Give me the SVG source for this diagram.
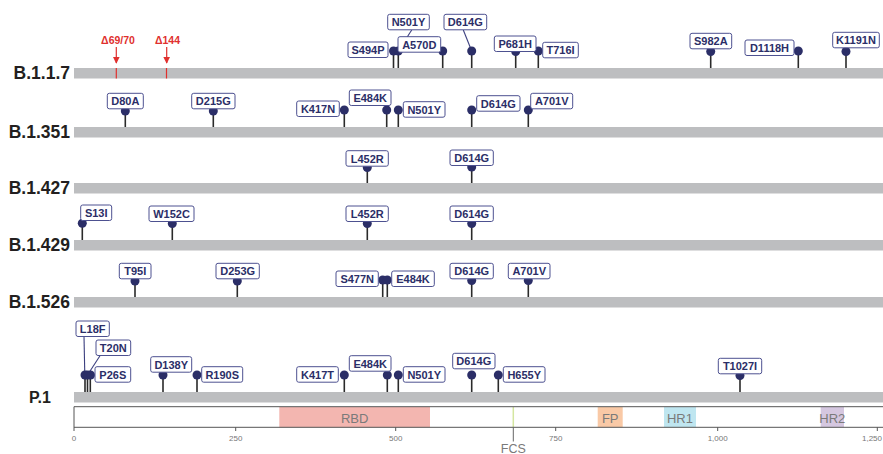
<svg xmlns="http://www.w3.org/2000/svg" width="883" height="454" viewBox="0 0 883 454">
<defs>
<style>
.bar{fill:#bdbec0}
.row{font-family:"Liberation Sans",Arial,sans-serif;font-weight:bold;font-size:17.5px;fill:#231f20;text-anchor:end}
.rowp{font-family:"Liberation Sans",Arial,sans-serif;font-weight:bold;font-size:16px;fill:#231f20;text-anchor:start}
.stem{stroke:#2a2a2a;stroke-width:1.6}
.lead{stroke:#3b3f7f;stroke-width:1.1;fill:none}
.dot{fill:#2b2e67}
.box{fill:#fff;stroke:#4d5190;stroke-width:1;rx:2;ry:2}
.lbl{font-family:"Liberation Sans",Arial,sans-serif;font-weight:bold;font-size:11px;fill:#2b2e67;text-anchor:middle}
.del{font-family:"Liberation Sans",Arial,sans-serif;font-weight:bold;font-size:10.5px;fill:#e0302e;text-anchor:middle}
.red{stroke:#e0302e;stroke-width:1.2}
.dom{font-family:"Liberation Sans",Arial,sans-serif;font-size:13px;fill:#7a7a7a;text-anchor:middle}
.tick{font-family:"Liberation Sans",Arial,sans-serif;font-size:8px;fill:#777;text-anchor:middle}
.ax{stroke:#555;stroke-width:1}
</style>
<marker id="arr" viewBox="0 0 10 10" refX="9" refY="5" markerWidth="7" markerHeight="7" orient="auto" markerUnits="userSpaceOnUse">
<path d="M0,0 L10,5 L0,10 z" fill="#e0302e"/>
</marker>
</defs>
<rect width="883" height="454" fill="#fff"/>

<g id="rows">
<rect class="bar" x="74" y="68" width="809" height="10.5"/>
<text class="row" x="70" y="79">B.1.1.7</text>
<rect class="bar" x="74" y="127" width="809" height="10.5"/>
<text class="row" x="70" y="138">B.1.351</text>
<rect class="bar" x="74" y="183" width="809" height="10.5"/>
<text class="row" x="70" y="194">B.1.427</text>
<rect class="bar" x="74" y="240" width="809" height="10.5"/>
<text class="row" x="70" y="251">B.1.429</text>
<rect class="bar" x="74" y="297" width="809" height="10.5"/>
<text class="row" x="70" y="308">B.1.526</text>
<rect class="bar" x="74" y="392" width="809" height="10.5"/>
<text class="rowp" x="29" y="403">P.1</text>
</g>

<g id="deletions">
<line class="red" x1="116.3" y1="68" x2="116.3" y2="78.5" stroke-width="1.4"/>
<line class="red" x1="166.5" y1="68" x2="166.5" y2="78.5" stroke-width="0.8"/>
<text class="del" x="118" y="44">Δ69/70</text>
<text class="del" x="167.5" y="44">Δ144</text>
<line class="red" x1="116.3" y1="47" x2="116.3" y2="63" marker-end="url(#arr)"/>
<line class="red" x1="166.7" y1="47" x2="166.7" y2="63" marker-end="url(#arr)"/>
</g>

<g id="connectors">
<!-- B.1.1.7 -->
<line class="stem" x1="393.5" y1="51" x2="393.5" y2="68"/>
<line class="stem" x1="398.3" y1="51" x2="398.3" y2="68"/>
<line class="stem" x1="442.7" y1="51" x2="442.7" y2="68"/>
<line class="stem" x1="471.7" y1="51" x2="471.7" y2="68"/>
<line class="stem" x1="515.7" y1="51" x2="515.7" y2="68"/>
<line class="stem" x1="538.3" y1="51" x2="538.3" y2="68"/>
<line class="stem" x1="710.7" y1="51" x2="710.7" y2="68"/>
<line class="stem" x1="798.3" y1="51" x2="798.3" y2="68"/>
<line class="stem" x1="846" y1="51" x2="846" y2="68"/>
<line class="lead" x1="411.7" y1="30" x2="398.3" y2="51"/>
<line class="lead" x1="463.3" y1="30" x2="471.7" y2="51"/>
<!-- B.1.351 -->
<line class="stem" x1="125.3" y1="110" x2="125.3" y2="127"/>
<line class="stem" x1="213.3" y1="110" x2="213.3" y2="127"/>
<line class="stem" x1="344.3" y1="110" x2="344.3" y2="127"/>
<line class="stem" x1="386.7" y1="110" x2="386.7" y2="127"/>
<line class="stem" x1="398.3" y1="110" x2="398.3" y2="127"/>
<line class="stem" x1="471.7" y1="110" x2="471.7" y2="127"/>
<line class="stem" x1="528.3" y1="110" x2="528.3" y2="127"/>
<!-- B.1.427 -->
<line class="stem" x1="367.3" y1="167" x2="367.3" y2="183"/>
<line class="stem" x1="471.7" y1="167" x2="471.7" y2="183"/>
<!-- B.1.429 -->
<line class="stem" x1="82.3" y1="223" x2="82.3" y2="240"/>
<line class="stem" x1="172.3" y1="223" x2="172.3" y2="240"/>
<line class="stem" x1="367.3" y1="223" x2="367.3" y2="240"/>
<line class="stem" x1="471.7" y1="223" x2="471.7" y2="240"/>
<!-- B.1.526 -->
<line class="stem" x1="135" y1="281" x2="135" y2="297"/>
<line class="stem" x1="237.3" y1="281" x2="237.3" y2="297"/>
<line class="stem" x1="382.7" y1="280" x2="382.7" y2="297"/>
<line class="stem" x1="387.3" y1="280" x2="387.3" y2="297"/>
<line class="stem" x1="471.7" y1="281" x2="471.7" y2="297"/>
<line class="stem" x1="528.3" y1="281" x2="528.3" y2="297"/>
<!-- P.1 -->
<line class="stem" x1="85" y1="375" x2="85" y2="392"/>
<line class="stem" x1="87.5" y1="375" x2="87.5" y2="392"/>
<line class="stem" x1="90.3" y1="375" x2="90.3" y2="392"/>
<line class="stem" x1="163" y1="375" x2="163" y2="392"/>
<line class="stem" x1="197" y1="375" x2="197" y2="392"/>
<line class="stem" x1="344.3" y1="375" x2="344.3" y2="392"/>
<line class="stem" x1="387.3" y1="375" x2="387.3" y2="392"/>
<line class="stem" x1="398.3" y1="375" x2="398.3" y2="392"/>
<line class="stem" x1="471.7" y1="375" x2="471.7" y2="392"/>
<line class="stem" x1="498.3" y1="375" x2="498.3" y2="392"/>
<line class="stem" x1="740" y1="375" x2="740" y2="392"/>
<line class="lead" x1="84" y1="336" x2="84.8" y2="375"/>
<line class="lead" x1="100" y1="355.7" x2="87.5" y2="375"/>
</g>

<g id="dots">
<circle class="dot" cx="393.5" cy="51" r="4.5"/>
<circle class="dot" cx="398.3" cy="51" r="4.5"/>
<circle class="dot" cx="442.7" cy="51" r="4.5"/>
<circle class="dot" cx="471.7" cy="51" r="4.5"/>
<circle class="dot" cx="515.7" cy="51.5" r="4.5"/>
<circle class="dot" cx="538.3" cy="51" r="4.5"/>
<circle class="dot" cx="710.7" cy="51.5" r="4.5"/>
<circle class="dot" cx="798.3" cy="51" r="4.5"/>
<circle class="dot" cx="846" cy="51.5" r="4.5"/>
<circle class="dot" cx="125.3" cy="111" r="4.5"/>
<circle class="dot" cx="213.3" cy="111" r="4.5"/>
<circle class="dot" cx="344.3" cy="110" r="4.5"/>
<circle class="dot" cx="386.7" cy="110" r="4.5"/>
<circle class="dot" cx="398.3" cy="110" r="4.5"/>
<circle class="dot" cx="471.7" cy="110" r="4.5"/>
<circle class="dot" cx="528.3" cy="110" r="4.5"/>
<circle class="dot" cx="367.3" cy="167.5" r="4.5"/>
<circle class="dot" cx="471.7" cy="167" r="4.5"/>
<circle class="dot" cx="82.3" cy="223.3" r="4.5"/>
<circle class="dot" cx="172.3" cy="223.5" r="4.5"/>
<circle class="dot" cx="367.3" cy="223.5" r="4.5"/>
<circle class="dot" cx="471.7" cy="223.5" r="4.5"/>
<circle class="dot" cx="135" cy="281" r="4.5"/>
<circle class="dot" cx="237.3" cy="281" r="4.5"/>
<circle class="dot" cx="382.7" cy="280" r="4.5"/>
<circle class="dot" cx="387.3" cy="280" r="4.5"/>
<circle class="dot" cx="471.7" cy="280.5" r="4.5"/>
<circle class="dot" cx="528.3" cy="280.5" r="4.5"/>
<circle class="dot" cx="85" cy="375" r="4.5"/>
<circle class="dot" cx="87.5" cy="375" r="4.5"/>
<circle class="dot" cx="90.5" cy="375" r="4.5"/>
<circle class="dot" cx="163" cy="375" r="4.5"/>
<circle class="dot" cx="197" cy="375" r="4.5"/>
<circle class="dot" cx="344.3" cy="375" r="4.5"/>
<circle class="dot" cx="387.3" cy="375" r="4.5"/>
<circle class="dot" cx="398.3" cy="375" r="4.5"/>
<circle class="dot" cx="471.7" cy="375" r="4.5"/>
<circle class="dot" cx="498.3" cy="375" r="4.5"/>
<circle class="dot" cx="740" cy="375.5" r="4.5"/>
</g>

<!-- B.1.1.7 labels -->
<g id="b117-S494P"><rect class="box" x="348" y="42" width="40" height="15.5"/><text class="lbl" x="368" y="53.8">S494P</text></g>
<g id="b117-N501Y"><rect class="box" x="387.7" y="14.3" width="41.6" height="15.5"/><text class="lbl" x="408.5" y="26.1">N501Y</text></g>
<g id="b117-A570D"><rect class="box" x="398" y="36.7" width="42.7" height="15.5"/><text class="lbl" x="419.3" y="48.5">A570D</text></g>
<g id="b117-D614G"><rect class="box" x="444" y="14.3" width="42.7" height="15.5"/><text class="lbl" x="465.3" y="26.1">D614G</text></g>
<g id="b117-P681H"><rect class="box" x="494.3" y="36" width="41.7" height="15.5"/><text class="lbl" x="515.2" y="47.8">P681H</text></g>
<g id="b117-T716I"><rect class="box" x="542.7" y="42.3" width="35.6" height="15.5"/><text class="lbl" x="560.5" y="54.1">T716I</text></g>
<g id="b117-S982A"><rect class="box" x="690" y="33.3" width="41.7" height="15.5"/><text class="lbl" x="710.8" y="45.1">S982A</text></g>
<g id="b117-D1118H"><rect class="box" x="745" y="40" width="49" height="15.5"/><text class="lbl" x="769.5" y="51.8">D1118H</text></g>
<g id="b117-K1191N"><rect class="box" x="832.7" y="32.3" width="46.6" height="15.5"/><text class="lbl" x="856" y="44.1">K1191N</text></g>

<!-- B.1.351 labels -->
<g id="b1351-D80A"><rect class="box" x="107.3" y="93.3" width="36" height="15.5"/><text class="lbl" x="125.3" y="105.1">D80A</text></g>
<g id="b1351-D215G"><rect class="box" x="191.7" y="93.3" width="43.3" height="15.5"/><text class="lbl" x="213.3" y="105.1">D215G</text></g>
<g id="b1351-K417N"><rect class="box" x="296.7" y="101" width="42.6" height="15.5"/><text class="lbl" x="318" y="112.8">K417N</text></g>
<g id="b1351-E484K"><rect class="box" x="349.3" y="90" width="41.7" height="15.5"/><text class="lbl" x="370.2" y="101.8">E484K</text></g>
<g id="b1351-N501Y"><rect class="box" x="403.3" y="101.7" width="41.7" height="15.5"/><text class="lbl" x="424.2" y="113.5">N501Y</text></g>
<g id="b1351-D614G"><rect class="box" x="476.7" y="95.7" width="43.3" height="15.5"/><text class="lbl" x="498.3" y="107.5">D614G</text></g>
<g id="b1351-A701V"><rect class="box" x="530.7" y="93.3" width="42" height="15.5"/><text class="lbl" x="551.7" y="105.1">A701V</text></g>

<!-- B.1.427 labels -->
<g id="b1427-L452R"><rect class="box" x="346" y="150.7" width="42.3" height="15.5"/><text class="lbl" x="367.2" y="162.5">L452R</text></g>
<g id="b1427-D614G"><rect class="box" x="450" y="150" width="43.3" height="15.5"/><text class="lbl" x="471.7" y="161.8">D614G</text></g>

<!-- B.1.429 labels -->
<g id="b1429-S13I"><rect class="box" x="80.7" y="205" width="31" height="15.5"/><text class="lbl" x="96.2" y="216.8">S13I</text></g>
<g id="b1429-W152C"><rect class="box" x="149" y="206" width="45" height="15.5"/><text class="lbl" x="171.5" y="217.8">W152C</text></g>
<g id="b1429-L452R"><rect class="box" x="346" y="206" width="42.3" height="15.5"/><text class="lbl" x="367.2" y="217.8">L452R</text></g>
<g id="b1429-D614G"><rect class="box" x="450" y="206" width="43.3" height="15.5"/><text class="lbl" x="471.7" y="217.8">D614G</text></g>

<!-- B.1.526 labels -->
<g id="b1526-T95I"><rect class="box" x="119.3" y="263.3" width="31.7" height="15.5"/><text class="lbl" x="135.2" y="275.1">T95I</text></g>
<g id="b1526-D253G"><rect class="box" x="216" y="263.3" width="43.3" height="15.5"/><text class="lbl" x="237.7" y="275.1">D253G</text></g>
<g id="b1526-S477N"><rect class="box" x="336" y="271" width="42.3" height="15.5"/><text class="lbl" x="357.2" y="282.8">S477N</text></g>
<g id="b1526-E484K"><rect class="box" x="391.7" y="271" width="42.6" height="15.5"/><text class="lbl" x="413" y="282.8">E484K</text></g>
<g id="b1526-D614G"><rect class="box" x="450" y="263.3" width="43.3" height="15.5"/><text class="lbl" x="471.7" y="275.1">D614G</text></g>
<g id="b1526-A701V"><rect class="box" x="508.3" y="263.3" width="41.7" height="15.5"/><text class="lbl" x="529.2" y="275.1">A701V</text></g>

<!-- P.1 labels -->
<g id="p1-L18F"><rect class="box" x="76" y="321" width="33.3" height="15.5"/><text class="lbl" x="92.7" y="332.8">L18F</text></g>
<g id="p1-T20N"><rect class="box" x="96" y="340" width="34.7" height="15.5"/><text class="lbl" x="113.3" y="351.8">T20N</text></g>
<g id="p1-P26S"><rect class="box" x="95" y="366.7" width="35.7" height="15.5"/><text class="lbl" x="112.8" y="378.5">P26S</text></g>
<g id="p1-D138Y"><rect class="box" x="150.7" y="356.7" width="41" height="15.5"/><text class="lbl" x="171.2" y="368.5">D138Y</text></g>
<g id="p1-R190S"><rect class="box" x="201.7" y="366.7" width="41" height="15.5"/><text class="lbl" x="222.2" y="378.5">R190S</text></g>
<g id="p1-K417T"><rect class="box" x="296.7" y="366.7" width="41.6" height="15.5"/><text class="lbl" x="317.5" y="378.5">K417T</text></g>
<g id="p1-E484K"><rect class="box" x="349.3" y="355.7" width="41.7" height="15.5"/><text class="lbl" x="370.2" y="367.5">E484K</text></g>
<g id="p1-N501Y"><rect class="box" x="403.3" y="366.7" width="41.7" height="15.5"/><text class="lbl" x="424.2" y="378.5">N501Y</text></g>
<g id="p1-D614G"><rect class="box" x="452.7" y="353.3" width="42.3" height="15.5"/><text class="lbl" x="473.8" y="365.1">D614G</text></g>
<g id="p1-H655Y"><rect class="box" x="503.3" y="366.7" width="41.7" height="15.5"/><text class="lbl" x="524.2" y="378.5">H655Y</text></g>
<g id="p1-T1027I"><rect class="box" x="718.3" y="358.3" width="43.4" height="15.5"/><text class="lbl" x="740" y="370.1">T1027I</text></g>

<g id="domains">
<rect x="279.3" y="407" width="150.7" height="20.3" fill="#f3b6b0"/>
<rect x="597.7" y="407" width="25" height="20.3" fill="#f9c9a6"/>
<rect x="664" y="407" width="32" height="20.3" fill="#bfe6f0"/>
<rect x="820.7" y="407" width="23.3" height="20.3" fill="#d5c7e0"/>
<line x1="513.3" y1="407" x2="513.3" y2="427.3" stroke="#d4e6a0" stroke-width="1.5"/>
<line x1="74" y1="406.7" x2="883" y2="406.7" class="ax"/>
<line x1="74" y1="427.3" x2="883" y2="427.3" class="ax"/>
<line x1="74" y1="406.7" x2="74" y2="431" class="ax"/>
<line x1="235.7" y1="427.3" x2="235.7" y2="431" class="ax"/>
<line x1="395.7" y1="427.3" x2="395.7" y2="431" class="ax"/>
<line x1="555.7" y1="427.3" x2="555.7" y2="431" class="ax"/>
<line x1="717.7" y1="427.3" x2="717.7" y2="431" class="ax"/>
<line x1="877.3" y1="427.3" x2="877.3" y2="431" class="ax"/>
<line x1="513.3" y1="427.3" x2="513.3" y2="441.5" stroke="#666" stroke-width="1"/>
<text class="dom" x="354.7" y="422.5">RBD</text>
<text class="dom" x="610.2" y="422.5">FP</text>
<text class="dom" x="680" y="422.5">HR1</text>
<text class="dom" x="832.3" y="422.5">HR2</text>
<text class="tick" x="74" y="440.5">0</text>
<text class="tick" x="235.7" y="440.5">250</text>
<text class="tick" x="395.7" y="440.5">500</text>
<text class="tick" x="555.7" y="440.5">750</text>
<text class="tick" x="717.7" y="440.5">1,000</text>
<text class="tick" x="882" y="440.5" style="text-anchor:end">1,250</text>
<text class="dom" x="513.3" y="452.5" style="font-size:12.5px">FCS</text>
</g>
</svg>
